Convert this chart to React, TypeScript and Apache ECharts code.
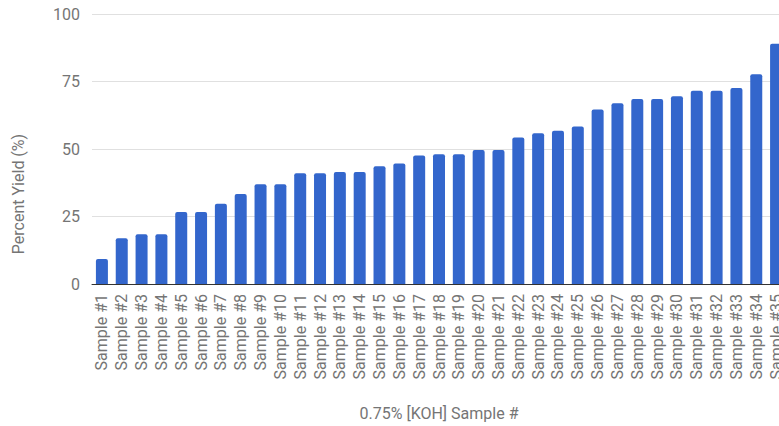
import React, { useEffect, useRef } from "react";
import * as echarts from "echarts";

// Sample names along the category axis
const sampleLabels: string[] = Array.from({ length: 35 }, (_, i) => `Sample #${i + 1}`);

// Percent yield measured for each sample
const percentYield: number[] = [
  9.3, 16.9, 18.4, 18.4, 26.7, 26.7, 29.7, 33.3, 36.9, 36.9,
  41.0, 41.0, 41.5, 41.5, 43.6, 44.6, 47.6, 48.1, 48.1, 49.6,
  49.6, 54.3, 55.8, 56.8, 58.3, 64.6, 66.9, 68.5, 68.5, 69.5,
  71.6, 71.6, 72.6, 77.7, 89.0,
];

const yTicks = { min: 0, max: 100, interval: 25 };

const xTitle = "0.75% [KOH] Sample #";
const yTitle = "Percent Yield (%)";

const FONT = "Roboto, 'Noto Sans', sans-serif";
const TEXT_GRAY = "#757575";

export default function App() {
  const ref = useRef<HTMLDivElement>(null);

  useEffect(() => {
    if (!ref.current) return;
    const chart = echarts.init(ref.current, null, { renderer: "svg" });
    chart.setOption({
      animation: false,
      backgroundColor: "#ffffff",
      textStyle: { fontFamily: FONT },
      grid: { left: 92, right: 0, top: 14, bottom: 142, containLabel: false },
      xAxis: {
        type: "category",
        data: sampleLabels,
        boundaryGap: true,
        axisTick: { show: false },
        axisLine: { show: true, lineStyle: { color: "#333333", width: 1 } },
        axisLabel: {
          interval: 0,
          rotate: 90,
          margin: 10,
          fontSize: 16,
          color: TEXT_GRAY,
          fontFamily: FONT,
        },
        name: xTitle,
        nameLocation: "middle",
        nameGap: 121,
        nameTextStyle: { fontSize: 16, color: TEXT_GRAY, fontFamily: FONT },
      },
      yAxis: {
        type: "value",
        min: yTicks.min,
        max: yTicks.max,
        interval: yTicks.interval,
        axisLine: { show: false },
        axisTick: { show: false },
        axisLabel: { fontSize: 16, color: TEXT_GRAY, margin: 12, fontFamily: FONT },
        splitLine: { lineStyle: { color: "#e0e0e0", width: 1 } },
      },
      graphic: [
        {
          type: "text",
          x: 18,
          y: 194,
          rotation: Math.PI / 2,
          style: {
            text: yTitle,
            fontSize: 16,
            fill: TEXT_GRAY,
            fontFamily: FONT,
            align: "center",
            verticalAlign: "middle",
          },
        },
      ],
      series: [
        {
          type: "bar",
          data: percentYield,
          barWidth: 12,
          itemStyle: { color: "#3366cc", borderRadius: [2, 2, 0, 0] },
          z: 1,
        },
      ],
    });
    return () => chart.dispose();
  }, []);

  // The plot runs a little past the right edge of the visible frame
  return (
    <div
      style={{
        position: "fixed",
        left: 0,
        top: 0,
        width: 779,
        height: 426,
        overflow: "hidden",
        background: "#ffffff",
      }}
    >
      <div ref={ref} style={{ width: 786, height: 426 }} />
    </div>
  );
}
